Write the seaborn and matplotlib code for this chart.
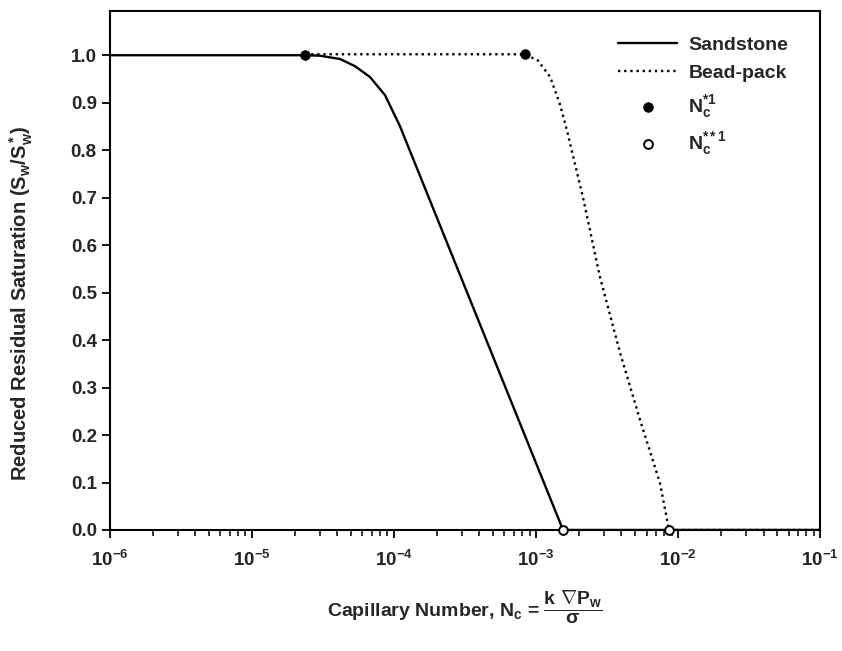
import numpy as np
import pandas as pd
import seaborn as sns
import matplotlib.pyplot as plt
from matplotlib.ticker import LogLocator, FixedLocator, NullFormatter

# Reduced residual saturation vs capillary number.
sand_nc = [1e-6, 2.36e-5, 3.01e-5, 4.17e-5, 5.31e-5, 6.78e-5, 8.64e-5, 1.10e-4, 1.55e-3, 1e-1]
sand_s = [1.0, 1.0, 0.999, 0.992, 0.977, 0.954, 0.916, 0.851, 0.0, 0.0]

bead_nc = [2.36e-5, 8.38e-4, 1.03e-3, 1.26e-3, 1.48e-3, 1.65e-3, 2.14e-3, 2.82e-3,
           3.91e-3, 5.40e-3, 7.46e-3, 8.65e-3, 1e-1]
bead_s = [1.002, 1.002, 0.989, 0.954, 0.895, 0.842, 0.701, 0.533, 0.373, 0.232, 0.099, 0.0, 0.0]

# critical points: onset (filled) and end of desaturation (open)
nc1_x = [2.36e-5, 8.38e-4]
nc1_y = [1.0, 1.002]
nc2_x = [1.55e-3, 8.65e-3]
nc2_y = [0.0, 0.0]

x_ticks = [1e-6, 1e-5, 1e-4, 1e-3, 1e-2, 1e-1]
x_labels = ['10$^{-6}$', '10$^{-5}$', '10$^{-4}$', '10$^{-3}$', '10$^{-2}$', '10$^{-1}$']
y_ticks = np.round(np.arange(0, 1.01, 0.1), 1)

sns.set_theme(style='ticks')
plt.rcParams['font.family'] = ['Liberation Sans', 'DejaVu Sans']
plt.rcParams['font.weight'] = 'bold'
plt.rcParams['mathtext.fontset'] = 'custom'
plt.rcParams['mathtext.rm'] = 'Liberation Sans:bold'
plt.rcParams['mathtext.it'] = 'Liberation Sans:bold'
plt.rcParams['mathtext.bf'] = 'Liberation Sans:bold'

fig = plt.figure(figsize=(8.42, 6.51), dpi=100)
ax = fig.add_axes([0.1306, 0.1859, 0.8433, 0.7971])

sand = pd.DataFrame({'nc': sand_nc, 's': sand_s})
bead = pd.DataFrame({'nc': bead_nc, 's': bead_s})

sns.lineplot(data=sand, x='nc', y='s', sort=False, estimator=None, color='black',
             lw=1.7, label='Sandstone', ax=ax)
sns.lineplot(data=bead, x='nc', y='s', sort=False, estimator=None, color='black',
             lw=1.7, linestyle=(0, (1, 1.6)), label='Bead-pack', ax=ax)
sns.scatterplot(x=nc1_x, y=nc1_y, color='black', s=48, edgecolor='black', zorder=5,
                label='N$_c^{*1}$', ax=ax, clip_on=False)
sns.scatterplot(x=nc2_x, y=nc2_y, color='white', s=40, edgecolor='black', linewidth=1.4,
                zorder=5, label='N$_c^{**1}$', ax=ax, clip_on=False)

ax.set_xscale('log')
ax.set_xlim(1e-6, 1e-1)
ax.set_ylim(0, 1.093)
ax.xaxis.set_major_locator(FixedLocator(x_ticks))
ax.set_xticklabels(x_labels)
ax.xaxis.set_minor_locator(LogLocator(base=10, subs=np.arange(2, 10), numticks=20))
ax.xaxis.set_minor_formatter(NullFormatter())
ax.set_yticks(y_ticks)
ax.set_yticklabels([f'{v:.1f}' for v in y_ticks])

ax.tick_params(axis='both', which='major', direction='out', length=6, width=1.3,
               labelsize=13.5, top=False, right=False, color='black')
ax.tick_params(axis='x', which='major', pad=8)
ax.tick_params(axis='x', which='minor', direction='out', length=4, width=1.1, color='black')
for sp in ax.spines.values():
    sp.set_visible(True)
    sp.set_linewidth(1.5)
    sp.set_color('black')

ax.set_xlabel(r'Capillary Number, N$_c$ = $\dfrac{k\ \nabla P_w}{\sigma}$',
              fontsize=14, fontweight='bold', labelpad=14)
ax.set_ylabel('Reduced Residual Saturation (S$_w$/S$^*_w$)', fontsize=14.5,
              fontweight='bold')
ax.yaxis.set_label_coords(-0.105, 0.437)

ax.legend(loc='upper right', bbox_to_anchor=(0.98, 0.985), frameon=False, fontsize=14,
          handlelength=3.0, labelspacing=0.55, handletextpad=0.6)

plt.savefig('out.png', dpi=100)
